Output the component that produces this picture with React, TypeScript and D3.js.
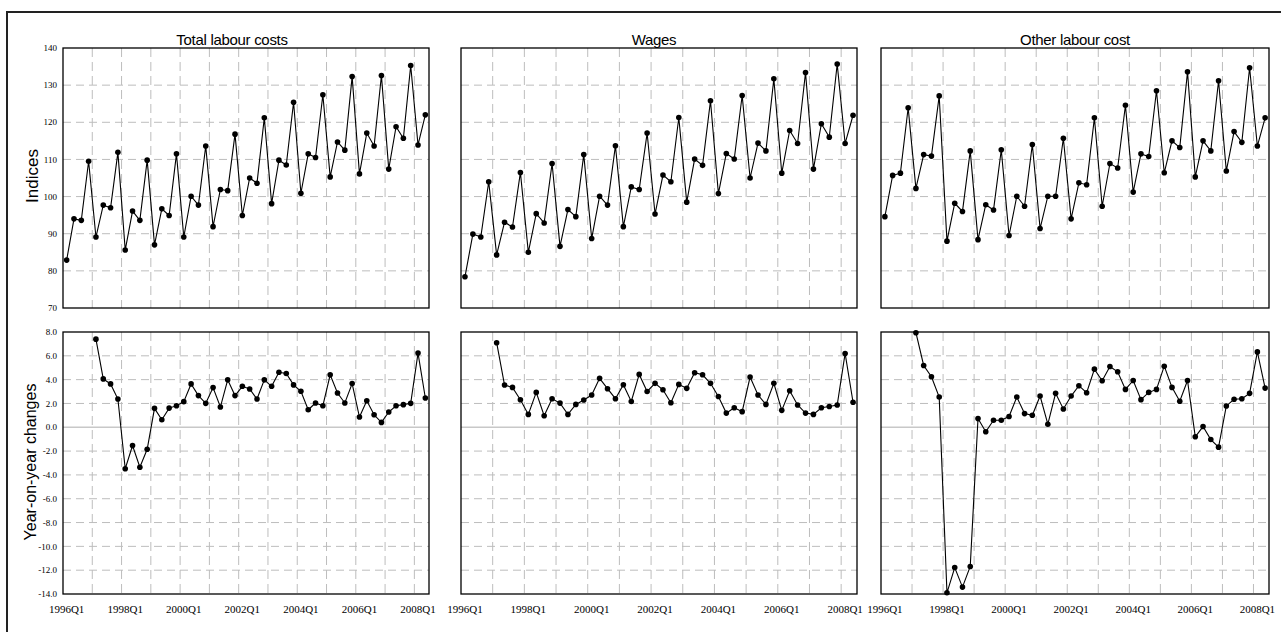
import React, { useEffect, useRef } from "react";
import * as d3 from "d3";

// quarters 1996Q1 .. 2008Q2
const quarters: string[] = d3
  .range(1996, 2009)
  .flatMap((y) => [1, 2, 3, 4].map((q) => `${y}Q${q}`))
  .slice(0, 50);

const xTickLabels = ["1996Q1", "1998Q1", "2000Q1", "2002Q1", "2004Q1", "2006Q1", "2008Q1"];
const indexTicks = [70, 80, 90, 100, 110, 120, 130, 140];
const changeTicks = [-14, -12, -10, -8, -6, -4, -2, 0, 2, 4, 6, 8];

const titles = ["Total labour costs", "Wages", "Other labour cost"];

const totalIndex = [
  82.9, 94.0, 93.6, 109.5, 89.1, 97.7, 97.0, 111.9, 85.6, 96.1, 93.6, 109.8,
  87.0, 96.7, 94.9, 111.5, 89.1, 100.1, 97.7, 113.6, 91.9, 101.9, 101.6, 116.8,
  94.9, 105.0, 103.6, 121.2, 98.1, 109.8, 108.5, 125.4, 100.9, 111.5, 110.5, 127.4,
  105.3, 114.7, 112.5, 132.3, 106.1, 117.1, 113.6, 132.6, 107.4, 118.8, 115.7, 135.3,
  113.9, 122.0,
];
const wagesIndex = [
  78.4, 89.9, 89.1, 104.0, 84.3, 93.1, 91.8, 106.5, 85.0, 95.4, 92.9, 108.9,
  86.6, 96.5, 94.6, 111.3, 88.7, 100.1, 97.7, 113.7, 91.9, 102.6, 101.9, 117.1,
  95.3, 105.8, 104.0, 121.3, 98.5, 110.1, 108.4, 125.8, 100.8, 111.6, 110.1, 127.2,
  105.0, 114.4, 112.3, 131.7, 106.3, 117.8, 114.3, 133.4, 107.4, 119.6, 116.0, 135.7,
  114.3, 121.9,
];
const otherIndex = [
  94.6, 105.7, 106.3, 123.9, 102.2, 111.3, 110.9, 127.1, 88.0, 98.2, 96.0, 112.3,
  88.4, 97.8, 96.4, 112.6, 89.5, 100.1, 97.4, 114.0, 91.4, 100.1, 100.1, 115.7,
  94.0, 103.7, 103.2, 121.2, 97.4, 108.9, 107.7, 124.6, 101.2, 111.5, 110.8, 128.5,
  106.4, 115.0, 113.2, 133.6, 105.3, 115.0, 112.3, 131.2, 106.9, 117.5, 114.6, 134.7,
  113.6, 121.2,
];

const totalChange = [
  null, null, null, null, 7.4, 4.06, 3.64, 2.37, -3.48, -1.54, -3.36, -1.85,
  1.59, 0.63, 1.61, 1.81, 2.15, 3.64, 2.66, 2.01, 3.33, 1.7, 3.98, 2.66,
  3.44, 3.22, 2.37, 3.98, 3.44, 4.62, 4.51, 3.56, 3.02, 1.47, 2.04, 1.81,
  4.4, 2.88, 2.04, 3.67, 0.86, 2.23, 1.05, 0.41, 1.28, 1.81, 1.9, 2.01,
  6.23, 2.46,
];
const wagesChange = [
  null, null, null, null, 7.1, 3.55, 3.35, 2.31, 1.08, 2.93, 0.97, 2.4,
  2.03, 1.08, 1.92, 2.29, 2.71, 4.11, 3.24, 2.4, 3.57, 2.17, 4.44, 3.01,
  3.69, 3.15, 2.06, 3.6, 3.27, 4.58, 4.41, 3.69, 2.59, 1.19, 1.64, 1.31,
  4.22, 2.71, 1.92, 3.69, 1.42, 3.07, 1.87, 1.19, 1.08, 1.64, 1.75, 1.87,
  6.2, 2.1,
];
const otherChange = [
  null, null, null, null, 7.94, 5.19, 4.24, 2.54, -13.9, -11.78, -13.42, -11.69,
  0.73, -0.38, 0.59, 0.59, 0.9, 2.54, 1.15, 1.01, 2.62, 0.26, 2.85, 1.54,
  2.62, 3.49, 2.9, 4.88, 3.91, 5.1, 4.66, 3.18, 3.93, 2.32, 2.93, 3.18,
  5.13, 3.35, 2.18, 3.93, -0.8, 0.06, -1.03, -1.67, 1.79, 2.35, 2.4, 2.85,
  6.33, 3.29,
];

const indexSeries = [totalIndex, wagesIndex, otherIndex];
const changeSeries = [totalChange, wagesChange, otherChange];

const W = 1281;
const H = 632;
const cols = [
  { x0: 63, x1: 429, title: 232 },
  { x0: 461, x1: 857, title: 654 },
  { x0: 881, x1: 1269, title: 1075 },
];
const topRow = { y0: 48, y1: 308 };
const botRow = { y0: 332, y1: 594 };

function App() {
  const ref = useRef<SVGSVGElement>(null);

  useEffect(() => {
    const svg = d3.select(ref.current);
    svg.selectAll("*").remove();

    // outer frame (runs off the right/bottom edges)
    svg.append("rect")
      .attr("x", 7).attr("y", 12)
      .attr("width", W + 20).attr("height", H + 20)
      .attr("fill", "#fff")
      .attr("stroke", "#222")
      .attr("stroke-width", 2);

    const drawPanel = (
      col: { x0: number; x1: number; title: number },
      row: { y0: number; y1: number },
      values: (number | null)[],
      domain: [number, number],
      ticks: number[],
      showY: boolean,
      showX: boolean,
      fmt: (v: number) => string,
      zeroLine: boolean
    ) => {
      const x = d3.scaleBand<string>().domain(quarters).range([col.x0, col.x1]);
      const y = d3.scaleLinear().domain(domain).range([row.y1, row.y0]);
      const cx = (q: string) => (x(q) as number) + x.bandwidth() / 2;
      const g = svg.append("g");

      // horizontal grid
      g.selectAll(".hg")
        .data(ticks.filter((t) => t !== domain[0] && t !== domain[1] && !(zeroLine && t === 0)))
        .enter()
        .append("line")
        .attr("x1", col.x0).attr("x2", col.x1)
        .attr("y1", (d) => y(d)).attr("y2", (d) => y(d))
        .attr("stroke", "#bdbdbd")
        .attr("stroke-dasharray", "8,5");

      // vertical grid at year boundaries
      const vlines = quarters.filter((q, i) => i > 0 && i % 4 === 0);
      g.selectAll(".vg")
        .data(vlines)
        .enter()
        .append("line")
        .attr("x1", (d) => x(d) as number).attr("x2", (d) => x(d) as number)
        .attr("y1", row.y0).attr("y2", row.y1)
        .attr("stroke", "#bdbdbd")
        .attr("stroke-dasharray", "9,5");

      if (zeroLine) {
        g.append("line")
          .attr("x1", col.x0).attr("x2", col.x1)
          .attr("y1", y(0)).attr("y2", y(0))
          .attr("stroke", "#c8c8c8")
          .attr("stroke-width", 1.5);
      }

      g.append("rect")
        .attr("x", col.x0).attr("y", row.y0)
        .attr("width", col.x1 - col.x0).attr("height", row.y1 - row.y0)
        .attr("fill", "none")
        .attr("stroke", "#000")
        .attr("stroke-width", 1.3);

      const pts = quarters.map((q, i) => ({ q, v: values[i] }));
      const line = d3.line<{ q: string; v: number | null }>()
        .defined((d) => d.v != null)
        .x((d) => cx(d.q))
        .y((d) => y(d.v as number));

      g.append("path")
        .datum(pts)
        .attr("d", line)
        .attr("fill", "none")
        .attr("stroke", "#000")
        .attr("stroke-width", 1.1);

      g.selectAll(".pt")
        .data(pts.filter((d) => d.v != null))
        .enter()
        .append("circle")
        .attr("cx", (d) => cx(d.q))
        .attr("cy", (d) => y(d.v as number))
        .attr("r", 2.8)
        .attr("fill", "#000");

      if (showY) {
        g.selectAll(".yt")
          .data(ticks)
          .enter()
          .append("text")
          .attr("x", col.x0 - 6)
          .attr("y", (d) => y(d))
          .attr("dy", "0.35em")
          .attr("text-anchor", "end")
          .style("font-family", "'Liberation Serif', serif")
          .style("font-size", "9px")
          .text((d) => fmt(d));
      }

      if (showX) {
        g.selectAll(".xt")
          .data(xTickLabels)
          .enter()
          .append("text")
          .attr("x", (d) => cx(d))
          .attr("y", 613)
          .attr("text-anchor", "middle")
          .style("font-family", "'Liberation Serif', serif")
          .style("font-size", "11px")
          .text((d) => d);
      }
    };

    cols.forEach((col, i) => {
      svg.append("text")
        .attr("x", col.title)
        .attr("y", 45)
        .attr("text-anchor", "middle")
        .style("font-family", "'Liberation Sans', Arial, sans-serif")
        .style("font-size", "15px")
        .style("letter-spacing", "-0.3px")
        .text(titles[i]);

      drawPanel(col, topRow, indexSeries[i], [70, 140], indexTicks, i === 0, false, (v) => String(v), false);
      drawPanel(col, botRow, changeSeries[i], [-14, 8], changeTicks, i === 0, true, (v) => v.toFixed(1), true);
    });

    svg.append("text")
      .attr("transform", "translate(38,176) rotate(-90)")
      .attr("text-anchor", "middle")
      .style("font-family", "'Liberation Sans', Arial, sans-serif")
      .style("font-size", "17px")
      .text("Indices");

    svg.append("text")
      .attr("transform", "translate(36,462) rotate(-90)")
      .attr("text-anchor", "middle")
      .style("font-family", "'Liberation Sans', Arial, sans-serif")
      .style("font-size", "16px")
      .text("Year-on-year changes");
  }, []);

  return (
    <svg
      ref={ref}
      width={W}
      height={H}
      style={{ position: "absolute", left: 0, top: 0, background: "#fff" }}
    />
  );
}

export default App;
